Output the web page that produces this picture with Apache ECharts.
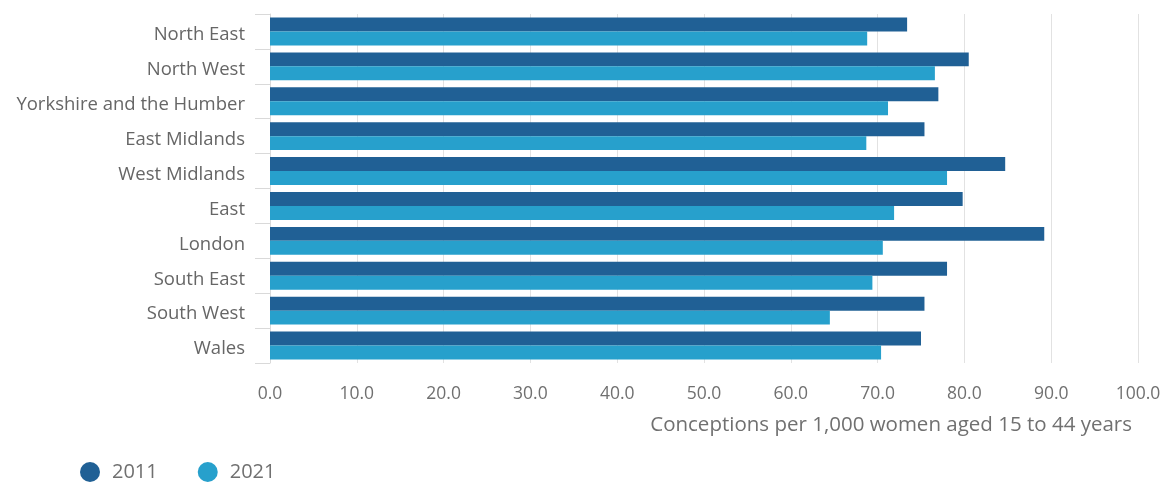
<!DOCTYPE html>
<html><head><meta charset="utf-8">
<script src="https://cdn.jsdelivr.net/npm/echarts@6/dist/echarts.min.js"></script>
<style>html,body{margin:0;padding:0;background:#fff}#c{width:1168px;height:482px}</style>
</head><body><div id="c"></div>
<script>
const categories = ["North East","North West","Yorkshire and the Humber","East Midlands","West Midlands","East","London","South East","South West","Wales"];
const values2011 = [73.4, 80.5, 77.0, 75.4, 84.7, 79.8, 89.2, 78.0, 75.4, 75.0];
const values2021 = [68.8, 76.6, 71.2, 68.7, 78.0, 71.9, 70.6, 69.4, 64.5, 70.4];
const seriesNames = ["2011", "2021"];
const axisTitle = "Conceptions per 1,000 women aged 15 to 44 years";

const font = "'Open Sans', sans-serif";
const chart = echarts.init(document.getElementById('c'), null, {renderer:'canvas'});
chart.setOption({
  animation: false,
  textStyle: {fontFamily: font},
  grid: {left: 270, right: 30, top: 14, bottom: 119, containLabel: false},
  legend: {
    left: 75, top: 457, icon: 'circle', itemWidth: 20, itemHeight: 20, itemGap: 40,
    textStyle: {fontSize: 20, color: '#707070', fontFamily: font, padding: [0,0,0,7]},
    data: seriesNames
  },
  xAxis: {
    type: 'value', min: 0, max: 100, interval: 10,
    axisLine: {show: false}, axisTick: {show: false},
    splitLine: {lineStyle: {color: '#e2e2e2', width: 1}},
    axisLabel: {formatter: v => v.toFixed(1), fontSize: 17.5, color: '#707070', margin: 22, fontFamily: font},
    name: axisTitle, nameLocation: 'end', nameGap: -6,
    nameTextStyle: {fontSize: 20.5, color: '#707070', align: 'right', verticalAlign: 'top', padding: [52,0,0,0], fontFamily: font}
  },
  yAxis: {
    type: 'category', data: categories, inverse: true,
    axisLine: {show: true, lineStyle: {color: '#d9d9d9'}},
    axisTick: {show: true, length: 15, lineStyle: {color: '#d9d9d9'}},
    axisLabel: {fontSize: 18.5, color: '#666', margin: 25, fontFamily: font, verticalAlign: 'top', lineHeight: 7}
  },
  series: [
    {name: seriesNames[0], type: 'bar', data: values2011, itemStyle: {color: '#206095'}, barGap: '0%', barCategoryGap: '20%'},
    {name: seriesNames[1], type: 'bar', data: values2021, itemStyle: {color: '#27a0cc'}, barGap: '0%', barCategoryGap: '20%'}
  ]
});
</script></body></html>
